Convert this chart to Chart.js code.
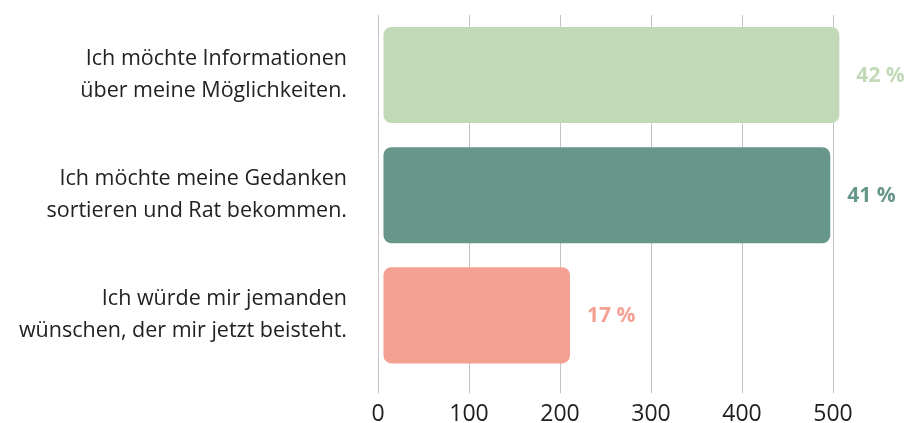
<!DOCTYPE html>
<html>
<head>
<meta charset="utf-8">
<script src="https://cdn.jsdelivr.net/npm/chart.js@4"></script>
<style>
  html, body { margin: 0; padding: 0; background: #ffffff; }
  #wrap { width: 912px; height: 423px; position: relative; }
</style>
</head>
<body>
<div id="wrap"><canvas id="c"></canvas></div>
<script>
const categories = [
  ["Ich möchte Informationen", "über meine Möglichkeiten."],
  ["Ich möchte meine Gedanken", "sortieren und Rat bekommen."],
  ["Ich würde mir jemanden", "wünschen, der mir jetzt beisteht."]
];
const values = [507, 497, 211];
const percentLabels = ["42 %", "41 %", "17 %"];
const barColors = ["#c1d9b7", "#67978a", "#f4a193"];
const xTicks = [0, 100, 200, 300, 400, 500];

const FONT = "'Open Sans', Lato, sans-serif";

const valueLabelPlugin = {
  id: 'valueLabels',
  afterDatasetsDraw(chart) {
    const ctx = chart.ctx;
    const meta = chart.getDatasetMeta(0);
    ctx.save();
    ctx.font = "bold 21px " + FONT;
    ctx.textAlign = 'left';
    ctx.textBaseline = 'middle';
    meta.data.forEach((bar, i) => {
      ctx.fillStyle = barColors[i];
      ctx.fillText(percentLabels[i], bar.x + 17, bar.y + 1);
    });
    ctx.restore();
  }
};

new Chart(document.getElementById('c'), {
  type: 'bar',
  data: {
    labels: categories,
    datasets: [{
      data: values,
      base: 6,
      clip: false,
      backgroundColor: barColors,
      borderRadius: 8,
      borderSkipped: false,
      barPercentage: 0.8,
      categoryPercentage: 1.0
    }]
  },
  options: {
    indexAxis: 'y',
    responsive: true,
    maintainAspectRatio: false,
    animation: false,
    layout: { padding: { top: 15, right: 79, bottom: -12, left: 0 } },
    plugins: { legend: { display: false }, tooltip: { enabled: false } },
    scales: {
      x: {
        min: 0,
        max: 500,
        afterBuildTicks(scale) { scale.ticks = xTicks.map(v => ({ value: v })); },
        afterFit(scale) { scale.paddingLeft = 0; scale.paddingRight = 0; },
        grid: { color: '#c4c4c4', lineWidth: 1, tickLength: 18, drawTicks: true },
        border: { display: false },
        ticks: { color: '#1e1e1e', font: { family: FONT, size: 23, lineHeight: 1.2 }, padding: 7 }
      },
      y: {
        afterFit(scale) { scale.width = 378; scale.paddingTop = 0; scale.paddingBottom = 0; },
        grid: { display: false },
        border: { display: false },
        ticks: { color: '#222222', font: { family: FONT, size: 21.5, lineHeight: 32 / 21.5 }, padding: 23 }
      }
    }
  },
  plugins: [valueLabelPlugin]
});
</script>
</body>
</html>
